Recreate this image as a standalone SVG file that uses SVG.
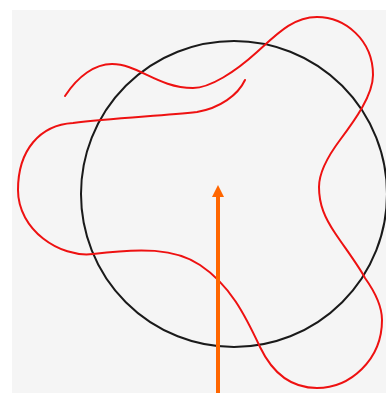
<svg xmlns="http://www.w3.org/2000/svg" width="386" height="393" viewBox="0 0 386 393">
<style>
.bg{fill:#f5f5f5}
.circ{fill:none;stroke:#1a1a1a;stroke-width:2}
.curve{fill:none;stroke:#ee1111;stroke-width:2;stroke-linecap:round}
.arrow{stroke:#ff6600;stroke-width:4}
.head{fill:#ff6600}
</style>
<rect x="0" y="0" width="386" height="393" fill="#ffffff"/>
<rect class="bg" x="12" y="10" width="374" height="383"/>
<g id="circle">
<circle class="circ" cx="234" cy="194" r="153"/>
</g>
<g id="curve">
<path class="curve" d="M65,96 C78,76 95,64 112,64 C138,64 158,88 193,88 C210,88 235,72 257,52 C277,34 293,17 317,17 C345,17 373,40 373,75 C373,95 355,120 340,140 C328,156 319,172 319,187 C319,205 325,218 335,233 C345,248 358,265 365,278 C375,292 382,305 382,320 C382,360 350,388 317,388 C290,388 272,372 260,347 C245,315 230,285 200,265 C175,248 140,248 93,254 C60,258 18,230 18,190 C18,150 40,125 73,123 C110,118 160,116 197,112 C220,108 238,95 245,80"/>
</g>
<g id="connectors">
<line class="arrow" x1="218" y1="393" x2="218" y2="196"/>
<polygon class="head" points="218,185 212,197 224,197"/>
</g>
</svg>
